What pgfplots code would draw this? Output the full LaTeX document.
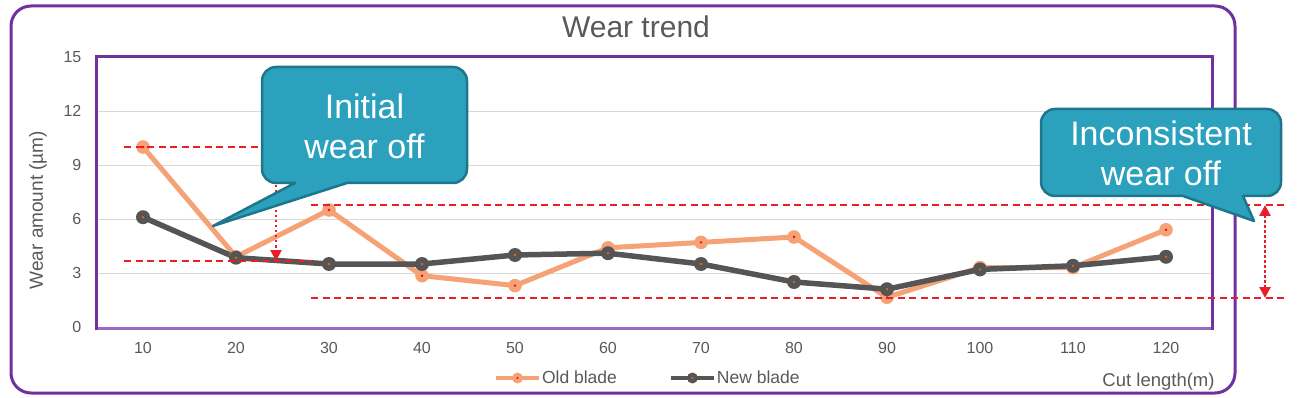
\documentclass[border=0pt]{standalone}
\usepackage{fontspec}
\setmainfont{Liberation Sans}
\usepackage{pgfplots}
\pgfplotsset{compat=1.18}
\usetikzlibrary{arrows.meta}
\definecolor{oldc}{RGB}{244,162,118}
\definecolor{newc}{RGB}{85,85,85}
\definecolor{purp}{RGB}{112,48,160}
\definecolor{purpl}{RGB}{150,105,195}
\definecolor{txt}{RGB}{89,89,89}
\definecolor{callf}{RGB}{43,161,190}
\definecolor{calld}{RGB}{30,118,140}
\definecolor{redl}{RGB}{232,30,40}
\definecolor{gridc}{RGB}{217,217,217}
\definecolor{dotorange}{RGB}{235,100,30}

\pgfdeclareplotmark{oldm}{%
  \pgfpathcircle{\pgfpointorigin}{6.8pt}\pgfsetfillcolor{oldc}\pgfusepathqfill
  \pgfpathcircle{\pgfpointorigin}{1.3pt}\pgfsetfillcolor{red}\pgfusepathqfill}
\pgfdeclareplotmark{newm}{%
  \pgfpathcircle{\pgfpointorigin}{7pt}\pgfsetfillcolor{newc}\pgfusepathqfill
  \pgfpathcircle{\pgfpointorigin}{1.3pt}\pgfsetfillcolor{dotorange}\pgfusepathqfill}
\pgfdeclareplotmark{oldl}{%
  \pgfpathcircle{\pgfpointorigin}{5.5pt}\pgfsetfillcolor{oldc}\pgfusepathqfill
  \pgfpathcircle{\pgfpointorigin}{1.2pt}\pgfsetfillcolor{red}\pgfusepathqfill}
\pgfdeclareplotmark{newl}{%
  \pgfpathcircle{\pgfpointorigin}{5.5pt}\pgfsetfillcolor{newc}\pgfusepathqfill
  \pgfpathcircle{\pgfpointorigin}{1.2pt}\pgfsetfillcolor{dotorange}\pgfusepathqfill}

\begin{document}
\begin{tikzpicture}
\path[use as bounding box] (0,0) rectangle (1301pt,-398pt);
% outer frame
\draw[purp, line width=3pt, rounded corners=20pt] (11pt,-6pt) rectangle (1235pt,-393pt);

\begin{axis}[
  at={(96.5pt,-327pt)}, anchor=south west,
  scale only axis, width=1116pt, height=270pt,
  xmin=5, xmax=125, ymin=0, ymax=15,
  xtick={10,20,...,120}, ytick={0,3,...,15},
  ymajorgrids, grid style={draw=gridc, line width=1pt},
  axis line style={draw=none}, major tick style={draw=none},
  /pgf/number format/assume math mode=true,
  tick label style={font=\fontsize{16}{19}\selectfont, text=txt},
  yticklabel style={inner sep=0pt, xshift=-15pt, anchor=east},
  xticklabel style={inner sep=0pt, yshift=-15pt, anchor=north},
  title={Wear trend},
  title style={at={(axis description cs:0.4834,1.1148)}, anchor=center, yshift=-7pt, font=\fontsize{30}{36}\selectfont, text=txt},
  ylabel={Wear amount (µm)},
  every axis y label/.style={at={(axis description cs:-0.0525,0.433)}, rotate=90, anchor=center, font=\fontsize{19}{22}\selectfont, text=txt},
  xlabel={Cut length(m)},
  every axis x label/.style={at={(axis description cs:1.005,-0.204)}, anchor=east, font=\fontsize{18.5}{21}\selectfont, text=txt},
  legend style={at={(axis description cs:0.3562,-0.1889)}, anchor=west, draw=none, fill=none,
     inner sep=0pt, outer sep=0pt,
     legend columns=2, font=\fontsize{17.5}{21}\selectfont, text=txt,
     nodes={inner xsep=1pt, inner ysep=2pt},
     /tikz/every even column/.append style={column sep=51pt}},
  legend image code/.code={\draw[mark repeat=2,mark phase=2,#1] plot coordinates {(0pt,0pt) (21.5pt,0pt) (43pt,0pt)};},
  clip=false,
]
\addplot[oldc, line width=5pt, line join=round, mark=oldm, forget plot] coordinates {
 (10,10.0) (20,3.9) (30,6.5) (40,2.85) (50,2.3) (60,4.4) (70,4.7) (80,5.0) (90,1.65) (100,3.3) (110,3.3) (120,5.4)};
\addlegendimage{oldc, line width=4pt, mark=oldl}
\addlegendentry{Old blade}
\addplot[newc, line width=5.5pt, line join=round, mark=newm, forget plot] coordinates {
 (10,6.1) (20,3.85) (30,3.5) (40,3.5) (50,4.0) (60,4.1) (70,3.5) (80,2.5) (90,2.1) (100,3.2) (110,3.4) (120,3.9)};
\addlegendimage{newc, line width=4pt, mark=newl}
\addlegendentry{New blade}
\end{axis}

\begin{scope}[x=1pt,y=1pt]
% inner frame
\draw[purpl, line width=3pt] (96.5,-328) -- (1212.5,-328);
\draw[purp, line width=3pt] (96.5,-329.5) -- (96.5,-57) -- (1212.5,-57) -- (1212.5,-329.5);
% dashed lines
\begin{scope}[redl, line width=1.8pt, dash pattern=on 7pt off 4.5pt]
\draw (124,-147) -- (330,-147);
\draw (124,-261) -- (312,-261);
\draw (311,-205) -- (1284,-205);
\draw (311,-298) -- (1284,-298);
\end{scope}
% dotted arrows
\draw[redl, line width=2.5pt, dash pattern=on 2.5pt off 2.5pt, -{Triangle[length=11pt,width=11pt]}] (276,-180) -- (276,-261);
\draw[redl, line width=2.5pt, dash pattern=on 2.5pt off 2.5pt, {Triangle[length=11pt,width=11pt]}-{Triangle[length=11pt,width=11pt]}] (1265,-205) -- (1265,-298);
% callout 1
\filldraw[fill=callf, draw=calld, line width=2.5pt, line join=round]
  (276,-67) -- (453,-67) arc[start angle=90,end angle=0,radius=14pt]
  -- (467,-169) arc[start angle=0,end angle=-90,radius=14pt]
  -- (347,-183) -- (213,-226) -- (295,-183) -- (276,-183)
  arc[start angle=270,end angle=180,radius=14pt]
  -- (262,-81) arc[start angle=180,end angle=90,radius=14pt] -- cycle;
\node[white, font=\fontsize{34}{40}\selectfont, align=center] at (364.5,-126) {Initial\\wear off};
% callout 2
\filldraw[fill=callf, draw=calld, line width=2.5pt, line join=round]
  (1055,-109) -- (1267,-109) arc[start angle=90,end angle=0,radius=14pt]
  -- (1281,-182) arc[start angle=0,end angle=-90,radius=14pt]
  -- (1243,-196) -- (1254,-221) -- (1183,-196) -- (1055,-196)
  arc[start angle=270,end angle=180,radius=14pt]
  -- (1041,-123) arc[start angle=180,end angle=90,radius=14pt] -- cycle;
\node[white, font=\fontsize{34}{40}\selectfont, align=center] at (1161,-153) {Inconsistent\\wear off};
\end{scope}
\end{tikzpicture}
\end{document}
